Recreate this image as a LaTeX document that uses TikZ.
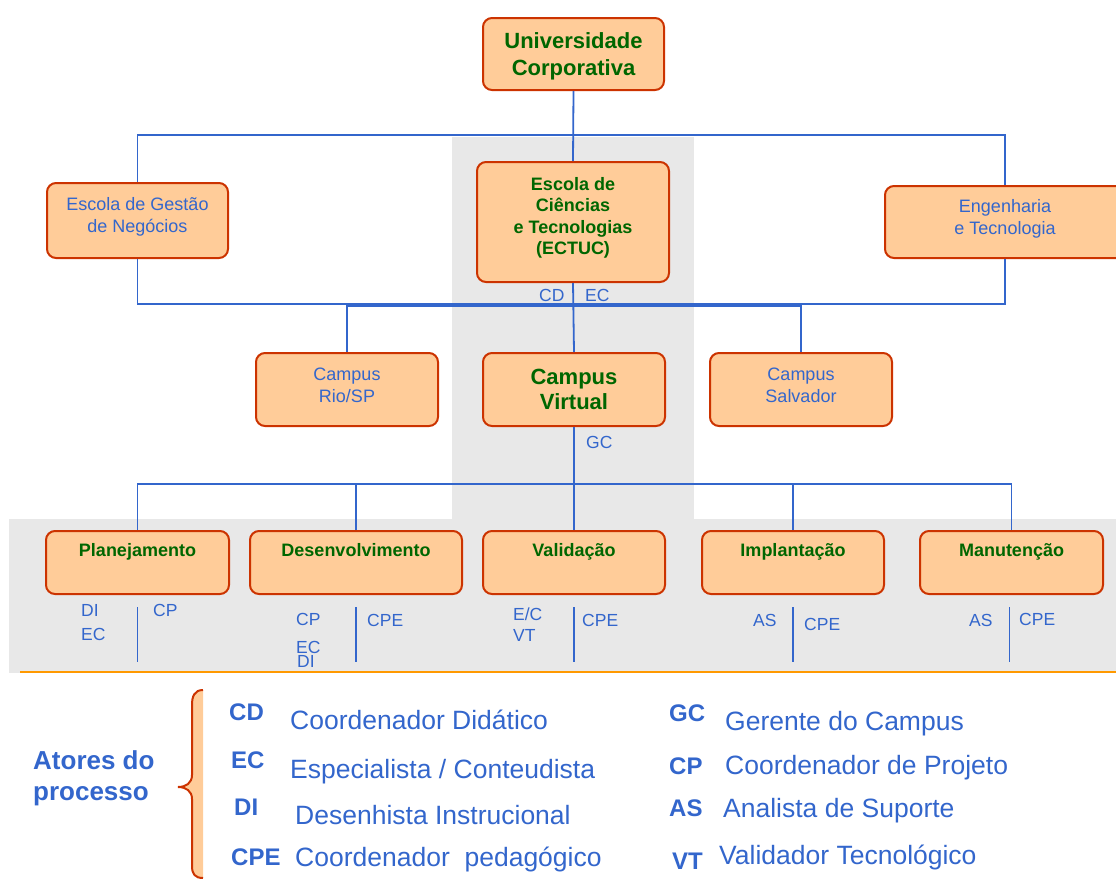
\documentclass[tikz,border=0pt]{standalone}
\usepackage{fontspec}
\setmainfont{Liberation Sans}
\usetikzlibrary{calc}

\definecolor{boxfill}{RGB}{255,204,153}
\definecolor{boxedge}{RGB}{204,51,0}
\definecolor{linkblue}{RGB}{51,102,204}
\definecolor{darkgreen}{RGB}{0,102,0}
\definecolor{panelgray}{RGB}{232,232,232}
\definecolor{ruleorange}{RGB}{255,153,0}

\tikzset{
  unit/.style={draw=boxedge, fill=boxfill, line width=2pt, rounded corners=9pt,
    inner sep=0pt},
  caption/.style={inner sep=0pt, align=center},
  headbig/.style={caption, text=darkgreen, font=\fontsize{22}{27}\selectfont\bfseries},
  headsmall/.style={caption, text=darkgreen, font=\fontsize{18}{21.5}\selectfont\bfseries},
  plainbox/.style={caption, text=linkblue, font=\fontsize{18}{22}\selectfont},
  phase/.style={text=darkgreen, font=\fontsize{18}{18}\selectfont\bfseries,
    inner sep=0pt, text height=12.9pt, text depth=0pt},
  link/.style={draw=linkblue, line width=1.8pt},
  tag/.style={text=linkblue, font=\fontsize{17.5}{17.5}\selectfont, inner sep=0pt,
    text height=12.5pt, text depth=0pt, anchor=west},
  acro/.style={text=linkblue, font=\fontsize{24}{24}\selectfont\bfseries, inner sep=0pt,
    text height=17.2pt, text depth=0pt, anchor=west},
  meaning/.style={text=linkblue, font=\fontsize{26.5}{26.5}\selectfont, inner sep=0pt,
    text height=19pt, text depth=0pt, anchor=west},
}

\begin{document}
\begin{tikzpicture}[x=1pt,y=-1pt]
\useasboundingbox (0,0) rectangle (1116,878);

% shaded panels
\fill[panelgray] (452,137) rectangle (694,519);
\fill[panelgray] (9,519) rectangle (1116,673);
\draw[ruleorange, line width=2pt] (20,672) -- (1116,672);

% organisation units
\node[unit, minimum width=181pt, minimum height=72pt] (univ) at (573.5,54) {};
\node[unit, minimum width=181pt, minimum height=75pt] (escg) at (137.5,220.5) {};
\node[unit, minimum width=192pt, minimum height=120pt] (ectuc) at (573,222) {};
\node[unit, minimum width=240pt, minimum height=72pt] (eng) at (1005,222) {};
\node[unit, minimum width=182pt, minimum height=73pt] (rio) at (347,389.5) {};
\node[unit, minimum width=182pt, minimum height=73pt] (cv) at (574,389.5) {};
\node[unit, minimum width=182pt, minimum height=73pt] (salv) at (801,389.5) {};

\node[headbig] (univT) at ([yshift=-2pt]univ.center) {Universidade\\Corporativa};
\node[plainbox] (escgT) at ([yshift=4pt]escg.center) {Escola de Gestão\\de Negócios};
\node[headsmall] (ectucT) at ([yshift=4pt]ectuc.center) {Escola de\\Ciências\\e Tecnologias\\(ECTUC)};
\node[plainbox] (engT) at ([yshift=3pt]eng.center) {Engenharia\\e Tecnologia};
\node[plainbox] (rioT) at ([yshift=4pt]rio.center) {Campus\\Rio/SP};
\node[headbig, font=\fontsize{22}{25}\selectfont\bfseries] (cvT) at (cv.center) {Campus\\Virtual};
\node[plainbox] (salvT) at ([yshift=4pt]salv.center) {Campus\\Salvador};

% process phases
\node[unit, minimum width=183pt, minimum height=63pt] (plan) at (137.5,562.5) {};
\node[unit, minimum width=212pt, minimum height=63pt] (desv) at (356,562.5) {};
\node[unit, minimum width=182pt, minimum height=63pt] (val) at (574,562.5) {};
\node[unit, minimum width=182pt, minimum height=63pt] (impl) at (793,562.5) {};
\node[unit, minimum width=183pt, minimum height=63pt] (manu) at (1011.5,562.5) {};

\node[phase] (planT) at ([yshift=-20pt]plan.north) {Planejamento};
\node[phase] (desvT) at ([yshift=-20pt]desv.north) {Desenvolvimento};
\node[phase] (valT) at ([yshift=-20pt]val.north) {Validação};
\node[phase] (implT) at ([yshift=-20pt]impl.north) {Implantação};
\node[phase] (manuT) at ([yshift=-20pt]manu.north) {Manutenção};

% tree connectors
\coordinate (busTop) at (573,135);
\coordinate (busMid) at (573,304);
\coordinate (busCampus) at (573,306);
\coordinate (busPhase) at (574,484);

\draw[link] (escg.north) |- (busTop) -| (eng.north);
\draw[link] (univ.south) -- (ectuc.north);
\draw[link] (escg.south) |- (busMid) -| (eng.south);
\draw[link] (rio.north) |- (busCampus) -| (salv.north);
\draw[link] (ectuc.south) -- (cv.north);
\draw[link] (plan.north) |- (busPhase) -| (manu.north);
\draw[link] (cv.south) -- (val.north);
\draw[link] (desv.north) -- (desv.north |- busPhase);
\draw[link] (impl.north) -- (impl.north |- busPhase);

% role dividers under each phase
\foreach \ph/\dx in {plan/0,desv/0,val/0,impl/0,manu/-2}
  \draw[link] ($(\ph.south)+(\dx,12)$) -- ++(0,55);

% role tags
\node[tag] (tCD) at (539,295) {CD};
\node[tag] (tEC) at (585,295) {EC};
\node[tag] (tGC) at (586,442) {GC};

\node[tag] (pDI) at (81,610) {DI};
\node[tag] (pEC) at (81,634.5) {EC};
\node[tag] (pCP) at (153,610) {CP};

\node[tag] (dCP) at (296,619) {CP};
\node[tag] (dEC) at (296,647) {EC};
\node[tag] (dDI) at (297,661) {DI};
\node[tag] (dCPE) at (367,620) {CPE};

\node[tag] (vEC) at (513,614) {E/C};
\node[tag] (vVT) at (513,635) {VT};
\node[tag] (vCPE) at (582,620) {CPE};

\node[tag] (iAS) at (753,620.5) {AS};
\node[tag] (iCPE) at (804,624) {CPE};

\node[tag] (mAS) at (969,620) {AS};
\node[tag] (mCPE) at (1019,619) {CPE};

% legend
\node[anchor=north west, align=left, inner sep=0pt, text=linkblue,
  font=\fontsize{26}{31}\selectfont\bfseries] (actors) at (33,750) {Atores do\\processo};

\fill[boxfill] (203,690) .. controls (194,690) and (192,697) .. (192,705) -- (192,775)
  .. controls (192,783) and (186,787) .. (178,787)
  .. controls (186,787) and (192,791) .. (192,799) -- (192,866)
  .. controls (192,874) and (195,878) .. (203,878) -- cycle;
\draw[boxedge, line width=2pt] (203,690) .. controls (194,690) and (192,697) .. (192,705) -- (192,775)
  .. controls (192,783) and (186,787) .. (178,787)
  .. controls (186,787) and (192,791) .. (192,799) -- (192,866)
  .. controls (192,874) and (195,878) .. (203,878);

\node[acro] (aCD) at (229,712) {CD};
\node[meaning] (mCD) at (290,720) {Coordenador Didático};
\node[acro] (aEC) at (231,760) {EC};
\node[meaning] (mEC) at (290,769) {Especialista / Conteudista};
\node[acro] (aDI) at (234,807) {DI};
\node[meaning] (mDI) at (295,815) {Desenhista Instrucional};
\node[acro] (aCPE) at (231,857) {CPE};
\node[meaning] (mCPE2) at (295,857) {Coordenador \ pedagógico};

\node[acro] (aGC) at (669,712.5) {GC};
\node[meaning] (mGC) at (725,720.5) {Gerente do Campus};
\node[acro] (aCP) at (669,765.5) {CP};
\node[meaning] (mCP) at (725,764.5) {Coordenador de Projeto};
\node[acro] (aAS) at (669,808) {AS};
\node[meaning] (mAS2) at (723,808) {Analista de Suporte};
\node[acro] (aVT) at (672,861) {VT};
\node[meaning] (mVT) at (719,855) {Validador Tecnológico};
\end{tikzpicture}
\end{document}
